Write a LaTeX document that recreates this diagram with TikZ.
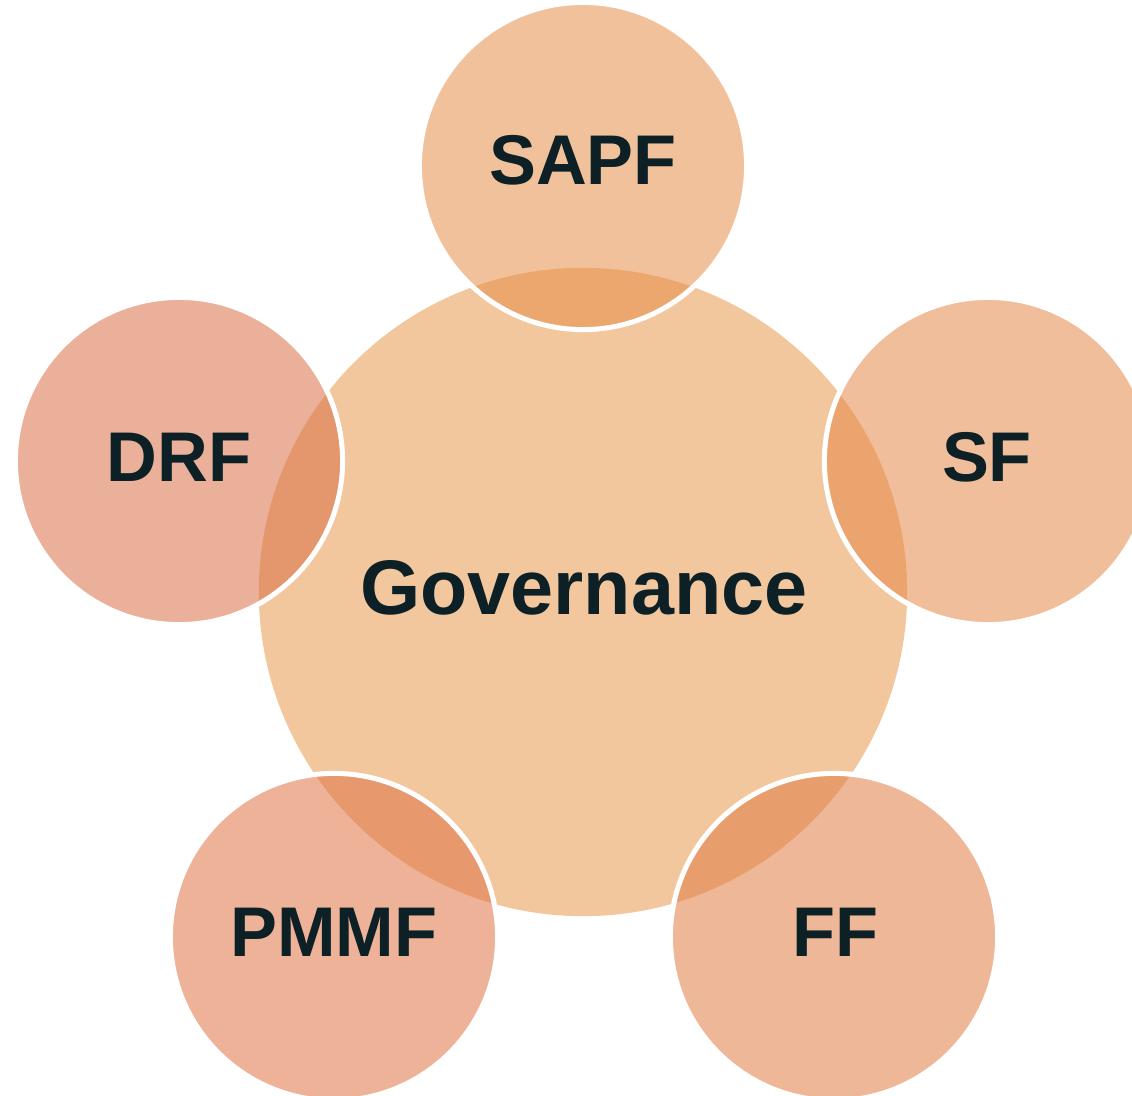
\documentclass[tikz,border=0pt]{standalone}
\usepackage{fontspec}
\setmainfont{Liberation Sans}
\definecolor{govfill}{RGB}{243,199,157}
\definecolor{sapfc}{RGB}{230,142,73}
\definecolor{sfc}{RGB}{230,137,73}
\definecolor{drfc}{RGB}{217,111,71}
\definecolor{pmmfc}{RGB}{222,115,68}
\definecolor{ffc}{RGB}{224,124,68}
\definecolor{txt}{RGB}{12,32,38}

\begin{document}
\begin{tikzpicture}[x=0.01cm,y=-0.01cm,
    bigcirc/.style={circle,fill=govfill,minimum size=6.48cm,inner sep=0pt},
    smallcirc/.style={circle,draw=white,line width=1.42pt,fill opacity=0.55,minimum size=3.27cm,inner sep=0pt},
    lbl/.style={text=txt,font=\bfseries\fontsize{20}{24}\selectfont,inner sep=0pt}]
        \clip (0,0) rectangle (1132,1096);

        \node[bigcirc] (gov) at (583,592) {};

        \node[smallcirc,fill=sapfc] (sapf) at (583,166) {};
        \node[smallcirc,fill=drfc] (drf) at (179,461) {};
        \node[smallcirc,fill=sfc] (sf) at (988,461) {};
        \node[smallcirc,fill=pmmfc] (pmmf) at (334,937) {};
        \node[smallcirc,fill=ffc] (ff) at (834,937) {};

        \node[lbl,font=\bfseries\fontsize{22}{26}\selectfont] (govtext) at (584,588) {Governance};
        \node[lbl] (sapftext) at (583,160) {SAPF};
        \node[lbl] (drftext) at (179,457) {DRF};
        \node[lbl] (sftext) at (987,457) {SF};
        \node[lbl] (pmmftext) at (334,932) {PMMF};
        \node[lbl] (fftext) at (835,932) {FF};
      \end{tikzpicture}
\end{document}
